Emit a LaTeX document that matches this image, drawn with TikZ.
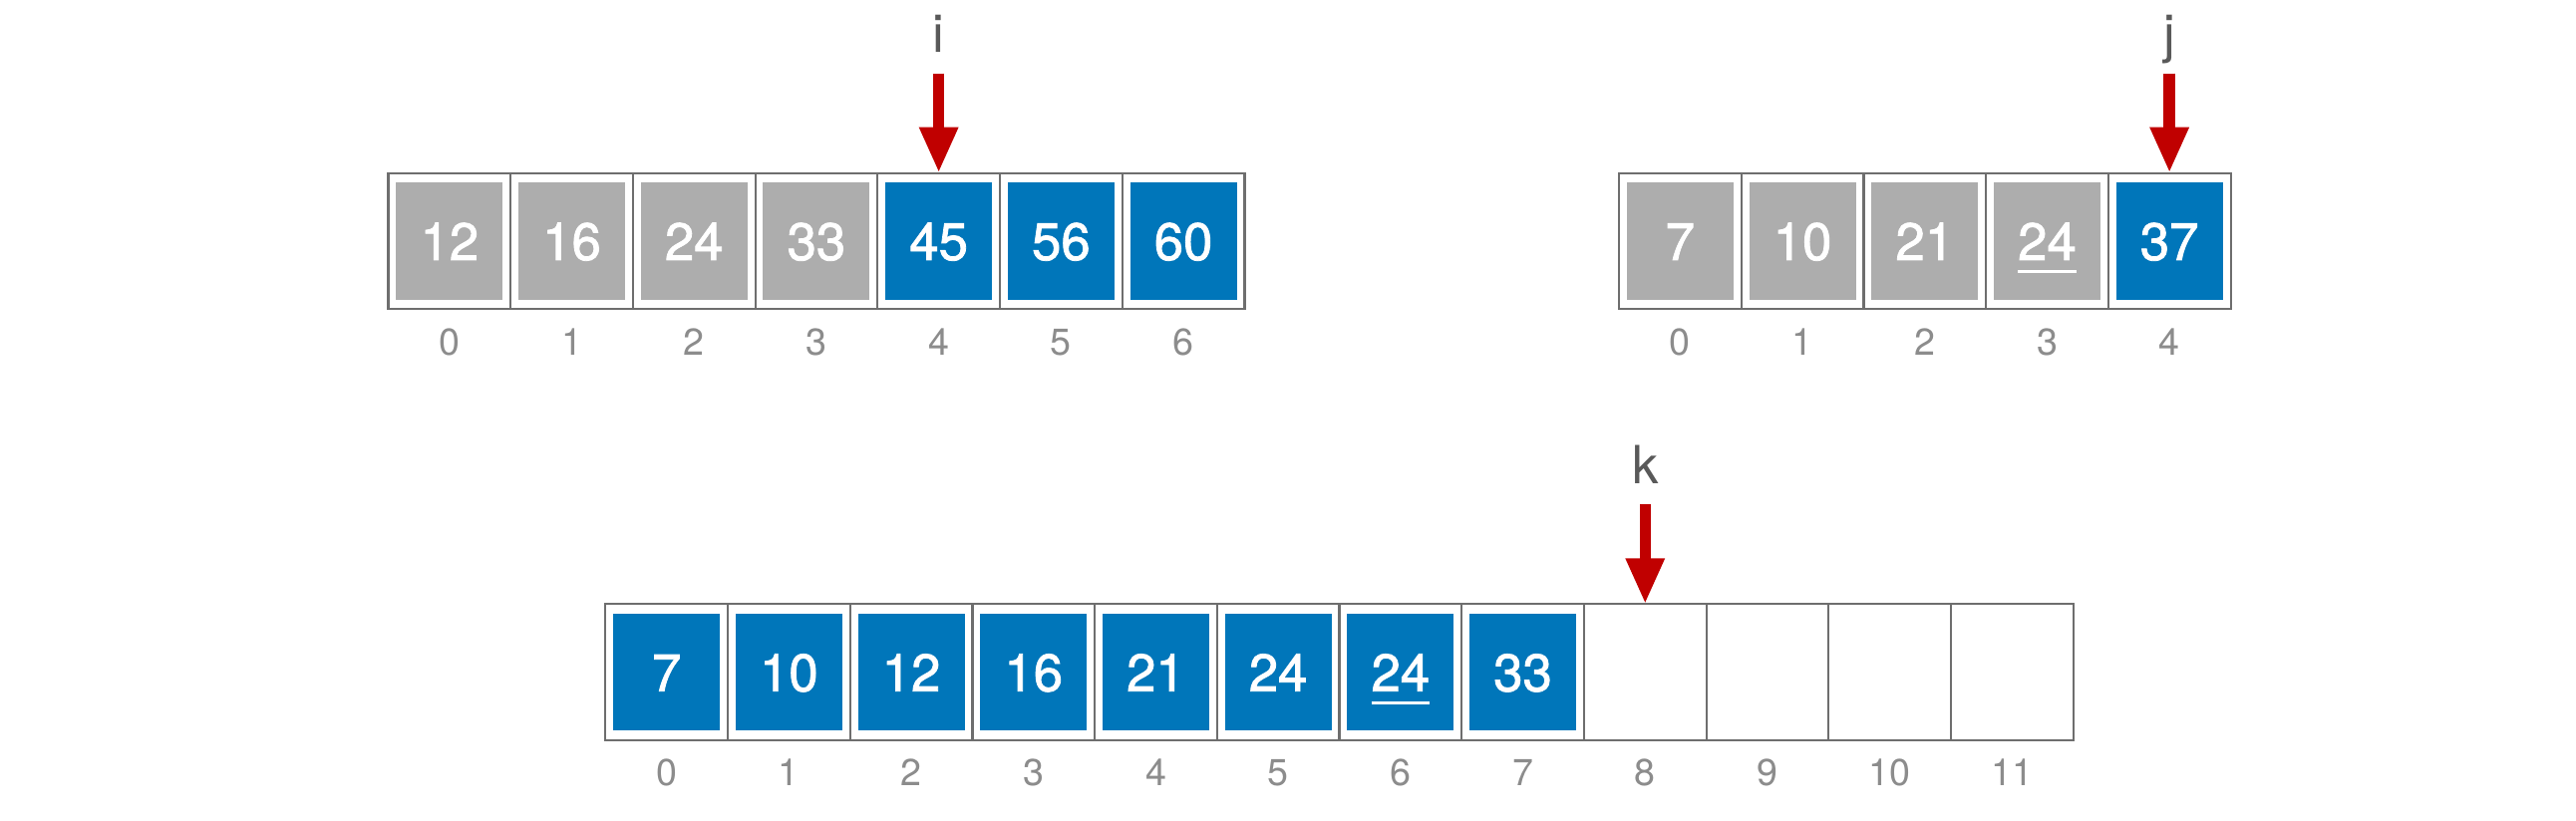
\documentclass[tikz,border=0pt]{standalone}
\usepackage{fontspec}
\setmainfont{TeX Gyre Heros}
\newfontfamily\cifra[FakeBold=1.5]{TeX Gyre Heros}
\usetikzlibrary{arrows.meta,positioning}
\definecolor{Azul}{HTML}{0076BA}
\definecolor{Gris}{HTML}{ADADAD}
\definecolor{Borde}{HTML}{6E6E6E}
\definecolor{Indice}{HTML}{8C8C8C}
\definecolor{Etiqueta}{HTML}{595959}
\definecolor{Rojo}{HTML}{C00000}
\newcommand{\subr}[1]{\setbox0\hbox{#1}\rlap{\rule[-3.8pt]{\wd0}{0.9pt}}#1}

\begin{document}
\begin{tikzpicture}[x=0.01cm,y=-0.01cm,>=Latex,
  celda/.style={draw=Borde,line width=0.6pt,minimum width=1.227cm,minimum height=1.365cm,inner sep=0pt,outer sep=0pt},
  valor/.style={minimum width=1.07cm,minimum height=1.17cm,inner sep=0pt,text=white,font=\cifra\fontsize{15}{18}\selectfont,text height=10.8pt,text depth=0pt},
  indice/.style={text=Indice,font=\fontsize{10.7}{13}\selectfont,inner sep=0pt,text height=7.7pt,text depth=0pt},
  puntero/.style={text=Etiqueta,font=\fontsize{15}{18}\selectfont,text height=0.39cm,text depth=0.1cm,inner sep=0.1cm},
  flecha/.style={-{Triangle[width=0.36cm,length=0.46cm]},line width=0.115cm,Rojo}]
\useasboundingbox (0,0) rectangle (2584,824);
% arreglo izquierdo
\foreach \v/\c [count=\n from 0] in {12/Gris,16/Gris,24/Gris,33/Gris,45/Azul,56/Azul,60/Azul} {
  \node[celda] (a\n) at ({450.85+122.7*\n},242) {};
  \node[valor,fill=\c] (av\n) at (a\n) {\v};
  \node[indice,below=0.18cm of a\n] (ai\n) {\n};
}
% arreglo derecho
\foreach \v/\c [count=\n from 0] in {7/Gris,10/Gris,21/Gris,\subr{24}/Gris,37/Azul} {
  \node[celda] (b\n) at ({1685.35+122.7*\n},242) {};
  \node[valor,fill=\c] (bv\n) at (b\n) {\v};
  \node[indice,below=0.18cm of b\n] (bi\n) {\n};
}
% arreglo resultado
\foreach \v [count=\n from 0] in {7,10,12,16,21,24,\subr{24},33} {
  \node[celda] (c\n) at ({668.65+122.7*\n},674.7) {};
  \node[valor,fill=Azul] (cv\n) at (c\n) {\v};
  \node[indice,below=0.18cm of c\n] (ci\n) {\n};
}
\foreach \n in {8,...,11} {
  \node[celda] (c\n) at ({668.65+122.7*\n},674.7) {};
  \node[indice,below=0.18cm of c\n] (ci\n) {\n};
}
% punteros
\node[puntero,above=1cm of a4] (pi) {i};
\node[puntero,above=1cm of b4] (pj) {j};
\node[puntero,above=1cm of c8] (pk) {k};
\draw[flecha] (pi.south) -- (a4.north);
\draw[flecha] (pj.south) -- (b4.north);
\draw[flecha] (pk.south) -- (c8.north);
\end{tikzpicture}
\end{document}
